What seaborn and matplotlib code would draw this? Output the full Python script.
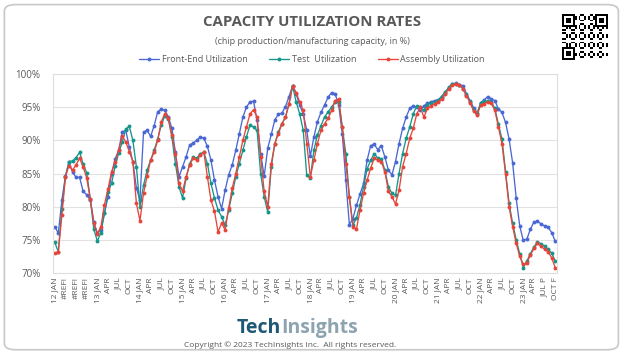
import matplotlib
matplotlib.use("Agg")
import matplotlib.pyplot as plt
import numpy as np
import pandas as pd
import seaborn as sns
from matplotlib.lines import Line2D
from matplotlib.patches import FancyBboxPatch

# quarterly category labels, one per three months (Jan 2012 .. Oct 2023)
tick_labels = [
    "12 JAN", "#REF!", "#REF!", "#REF!",
    "13 JAN", "APR", "JUL", "OCT",
    "14 JAN", "APR", "JUL", "OCT",
    "15 JAN", "APR", "JUL", "OCT",
    "16 JAN", "APR", "JUL", "OCT",
    "17 JAN", "APR", "JUL", "OCT",
    "18 JAN", "APR", "JUL", "OCT",
    "19 JAN", "APR", "JUL", "OCT",
    "20 JAN", "APR", "JUL", "OCT",
    "21 JAN", "APR", "JUL", "OCT",
    "22 JAN", "APR", "JUL", "OCT",
    "23 JAN", "APR", "JUL P", "OCT F",
]

# monthly utilization, %
front_end = [
    77.0, 76.0, 81.0, 84.6, 86.7, 85.2, 84.4, 84.4, 82.3, 81.8, 81.0, 77.7,
    76.0, 76.5, 79.0, 81.5, 85.0, 87.2, 88.5, 91.3, 91.5, 89.0, 86.8, 82.8,
    81.0, 91.2, 91.5, 90.6, 92.2, 94.3, 94.7, 94.5, 93.5, 91.8, 88.2, 84.5,
    86.0, 87.5, 89.3, 89.6, 90.0, 90.5, 90.3, 89.1, 87.0, 84.0, 81.5, 79.7,
    82.5, 84.8, 86.3, 88.5, 91.0, 93.5, 95.0, 95.8, 95.9, 93.0, 88.0, 84.6,
    88.8, 90.9, 93.1, 93.9, 94.1, 95.1, 96.6, 98.2, 97.0, 95.3, 94.0, 91.5,
    87.6, 90.5, 92.8, 94.2, 95.3, 96.5, 97.2, 97.0, 95.3, 91.0, 84.0, 77.3,
    78.2, 80.2, 81.9, 83.5, 87.0, 89.2, 89.4, 88.6, 89.2, 87.5, 85.5, 84.8,
    86.8, 89.5, 91.8, 93.5, 94.8, 95.2, 95.0, 94.5, 95.2, 95.6, 95.8, 96.0,
    96.1, 96.6, 97.2, 97.9, 98.5, 98.6, 98.4, 98.2, 97.0, 96.0, 94.9, 94.0,
    95.7, 96.1, 96.6, 96.2, 96.0, 94.7, 94.2, 92.7, 90.2, 86.6, 81.3, 77.1,
    74.9, 75.1, 76.6, 77.7, 77.8, 77.4, 77.1, 76.9, 76.1, 74.8,
]
test = [
    74.6, 73.2, 79.7, 84.5, 86.8, 86.9, 87.4, 88.2, 86.4, 85.1, 81.2, 76.6,
    74.8, 76.1, 79.0, 82.2, 83.5, 86.1, 88.1, 89.7, 91.7, 92.1, 90.0, 86.0,
    80.0, 83.2, 85.5, 87.0, 88.5, 90.2, 92.3, 93.7, 93.2, 90.5, 86.5, 83.0,
    81.3, 84.3, 86.5, 87.5, 87.3, 88.0, 88.2, 86.5, 83.5, 81.3, 79.5, 78.5,
    77.2, 79.5, 82.0, 84.5, 86.5, 88.5, 90.5, 92.3, 92.0, 91.5, 85.0, 81.5,
    79.2, 86.0, 89.5, 91.3, 92.5, 93.5, 95.5, 98.2, 95.8, 94.0, 91.5, 84.7,
    84.3, 88.5, 90.8, 92.2, 93.5, 94.3, 95.0, 95.8, 95.8, 92.0, 88.0, 81.5,
    77.2, 78.3, 80.3, 83.0, 85.7, 87.0, 88.0, 87.3, 87.2, 85.5, 83.0, 82.0,
    81.7, 85.0, 88.0, 90.3, 92.0, 94.0, 95.2, 95.0, 94.5, 95.4, 95.6, 95.8,
    96.0, 96.6, 97.3, 98.0, 98.5, 98.5, 98.3, 97.8, 96.8, 95.8, 94.6, 94.1,
    95.6, 95.9, 95.9, 95.8, 94.8, 92.4, 90.2, 85.3, 80.5, 77.5, 75.0, 72.9,
    70.8, 71.8, 72.9, 73.9, 74.7, 74.4, 74.0, 73.6, 73.0, 71.8,
]
assembly = [
    73.0, 73.2, 78.7, 84.5, 86.2, 85.5, 86.3, 87.3, 86.0, 84.3, 81.2, 77.5,
    75.9, 77.0, 80.3, 82.7, 85.2, 86.7, 88.5, 90.6, 89.8, 88.3, 86.8, 80.5,
    77.9, 82.0, 84.6, 87.0, 88.2, 90.0, 92.8, 94.0, 93.3, 90.8, 88.0, 83.5,
    82.3, 84.5, 86.3, 87.3, 87.0, 87.8, 88.2, 84.5, 81.0, 79.3, 76.2, 77.5,
    76.5, 79.8, 82.8, 85.0, 87.5, 90.0, 92.0, 94.0, 94.6, 93.5, 87.5, 82.3,
    80.0, 86.5, 89.5, 91.0, 92.5, 93.5, 95.5, 98.2, 97.2, 95.8, 94.5, 89.5,
    84.5, 87.0, 89.5, 91.5, 92.5, 93.3, 94.5, 96.0, 96.2, 92.0, 86.5, 81.5,
    77.0, 76.6, 79.5, 82.0, 84.0, 85.8, 87.3, 87.0, 86.8, 85.3, 82.3, 81.5,
    80.4, 82.5, 86.0, 88.0, 90.3, 91.8, 94.0, 95.0, 93.5, 94.8, 95.2, 95.5,
    95.8, 96.2, 97.0, 97.8, 98.3, 98.5, 98.4, 97.8, 96.7, 95.7, 94.4, 93.8,
    95.3, 95.5, 95.8, 95.6, 94.5, 92.0, 89.5, 85.0, 80.0, 77.0, 74.5, 72.5,
    71.3, 71.5, 72.7, 73.7, 74.5, 74.0, 73.6, 73.2, 72.3, 70.8,
]

series_names = ["Front-End Utilization", "Test  Utilization", "Assembly Utilization"]
colors = ["#4a68d4", "#14968a", "#e9443a"]
TEXT = "#595959"

sns.set_theme(style="white")
plt.rcParams["font.family"] = ["Open Sans", "DejaVu Sans"]

months = np.arange(len(front_end))
df = pd.DataFrame(
    {"month": months, series_names[0]: front_end, series_names[1]: test, series_names[2]: assembly}
).melt(id_vars="month", var_name="series", value_name="rate")

fig = plt.figure(figsize=(6.24, 3.54), dpi=100)
fig.patch.set_facecolor("white")

# card outline, kept behind the axes
fig.add_artist(FancyBboxPatch(
    (0.007, 0.012), 0.984, 0.975, boxstyle="round,pad=0,rounding_size=0.018",
    transform=fig.transFigure, facecolor="white", edgecolor="#c8c8c8", linewidth=1.2,
    zorder=-5,
))

ax = fig.add_axes([53 / 624, 1 - 273 / 354, 504 / 624, 199 / 354])
ax.set_facecolor("none")
sns.lineplot(
    data=df, x="month", y="rate", hue="series", hue_order=series_names,
    palette=dict(zip(series_names, colors)), marker="o", markersize=2.8,
    markeredgewidth=0, linewidth=0.95, legend=False, ax=ax,
)

ax.set_xlim(-0.5, len(months) - 0.5)
ax.set_ylim(70, 100)
ax.set_yticks(range(70, 101, 5))
ax.set_yticklabels([f"{v}%" for v in range(70, 101, 5)], fontsize=7, color=TEXT)
ax.set_xticks(months[::3])
ax.set_xticklabels(tick_labels, rotation=90, fontsize=6, color=TEXT)
ax.tick_params(length=0, pad=3)
ax.tick_params(axis="y", pad=9)
ax.set_xlabel("")
ax.set_ylabel("")
ax.grid(axis="y", color="#e2e2e2", linewidth=0.8)
for spine in ax.spines.values():
    spine.set_color("#dedede")
    spine.set_linewidth(0.8)

fig.text(0.5, 1 - 22 / 354, "CAPACITY UTILIZATION RATES", ha="center", va="center",
         fontsize=10.8, fontweight="bold", color=TEXT)
fig.text(0.5, 1 - 41 / 354, "(chip production/manufacturing capacity, in %)", ha="center",
         va="center", fontsize=6.5, color=TEXT)

handles = [Line2D([0], [0], color=c, marker="o", markersize=2.8, markeredgewidth=0, linewidth=0.95)
           for c in colors]
fig.legend(handles, series_names, loc="center", bbox_to_anchor=(0.5, 1 - 60 / 354), ncol=3,
           frameon=False, fontsize=6.5, labelcolor=TEXT, handlelength=2.2, handletextpad=0.3,
           columnspacing=2.4)

# QR-like badge in the corner
qr = np.zeros((25, 25))
i, j = np.indices(qr.shape)
qr[((i * 7 + j * 11 + i * j) % 5) < 2] = 1
for r, c in [(0, 0), (0, 18), (18, 0)]:
    qr[r:r + 7, c:c + 7] = 1
    qr[r + 1:r + 6, c + 1:c + 6] = 0
    qr[r + 2:r + 5, c + 2:c + 5] = 1
qax = fig.add_axes([562 / 624, 1 - 60 / 354, 46 / 624, 46 / 354])
qax.imshow(qr, cmap="Greys", interpolation="nearest")
qax.axis("off")

logo_y = 1 - 328 / 354
t1 = fig.text(237 / 624, logo_y, "Tech", ha="left", va="center", fontsize=14,
              fontweight="bold", color="#1f5876")
fig.canvas.draw()
bb = t1.get_window_extent()
fig.text(bb.x1 / fig.bbox.width, logo_y, "Insights", ha="left", va="center", fontsize=14,
         fontweight="bold", color="#8da3b0")
fig.text(290 / 624, 1 - 345 / 354, "Copyright \u00a9 2023 TechInsights Inc.  All rights reserved.",
         ha="center", va="center", fontsize=6, color=TEXT)

fig.savefig("out.png", dpi=100)
